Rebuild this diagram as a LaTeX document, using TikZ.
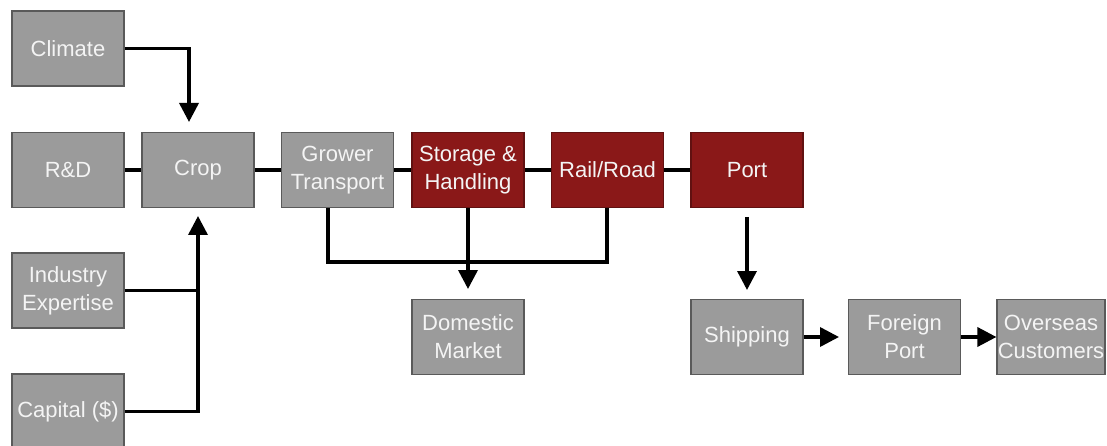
\documentclass[tikz,border=0pt]{standalone}
\usepackage{fontspec}
\setmainfont{Liberation Sans}
\usetikzlibrary{arrows.meta}
\definecolor{boxgray}{HTML}{9B9B9B}
\definecolor{boxred}{HTML}{8A1818}
\definecolor{boxedge}{HTML}{5A5A5A}
\definecolor{txt}{HTML}{F4F4F4}
\begin{document}
\begin{tikzpicture}[x=1pt,y=-1pt,
  box/.style={draw=boxedge, line width=1.2pt, fill=boxgray, minimum width=112pt, minimum height=75pt,
    inner sep=0pt, text=txt, font=\fontsize{22}{28}\selectfont, align=center},
  redbox/.style={box, fill=boxred, draw=boxred!70!black},
  conn/.style={line width=3.5pt, black},
  arr/.style={conn, -{Triangle[width=19pt,length=19pt]}}]
\useasboundingbox (0,0) rectangle (1107,446);
\fill[white] (0,0) rectangle (1107,446);
% nodes
\node[box] (climate) at (68,48.5) {Climate};
\node[box] (rd) at (68,170) {R\&D};
\node[box] (crop) at (198,170) {Crop};
\node[box] (grower) at (337.5,170) {Grower\\Transport};
\node[redbox] (storage) at (468,170) {Storage \&\\Handling};
\node[redbox] (rail) at (607.5,170) {Rail/Road};
\node[redbox] (port) at (747,170) {Port};
\node[box] (industry) at (68,290.5) {Industry\\Expertise};
\node[box] (capital) at (68,411.5) {Capital (\$)};
\node[box] (domestic) at (468,337) {Domestic\\Market};
\node[box] (shipping) at (747,337) {Shipping};
\node[box] (foreign) at (904.5,337) {Foreign\\Port};
\node[box, minimum width=108pt] (overseas) at (1051,337) {Overseas\\Customers};
% coordinates
\coordinate (cliTip) at (189,122);
\coordinate (cropIn) at (198,216);
\coordinate (busL) at (328,262);
\coordinate (busR) at (607,262);
\coordinate (domTip) at (468,289);
\coordinate (portOut) at (747,217);
\coordinate (shipTip) at (747,290);
\coordinate (forTip) at (839,337);
% connectors
\draw[arr] (climate.east) -| (cliTip);
\draw[conn] (rd) -- (crop);
\draw[conn] (crop) -- (grower);
\draw[conn] (grower) -- (storage);
\draw[conn] (storage) -- (rail);
\draw[conn] (rail) -- (port);
\draw[conn] (industry.east) -- (industry.east -| cropIn);
\draw[arr] (capital.east) -| (cropIn);
\draw[conn] (busL |- grower.south) -- (busL) -- (busR) -- (busR |- rail.south);
\draw[arr] (storage.south) -- (domTip);
\draw[arr] (portOut) -- (shipTip);
\draw[arr] (shipping.east) -- (forTip);
\draw[arr] (foreign.east) -- (overseas.west);
\end{tikzpicture}
\end{document}
